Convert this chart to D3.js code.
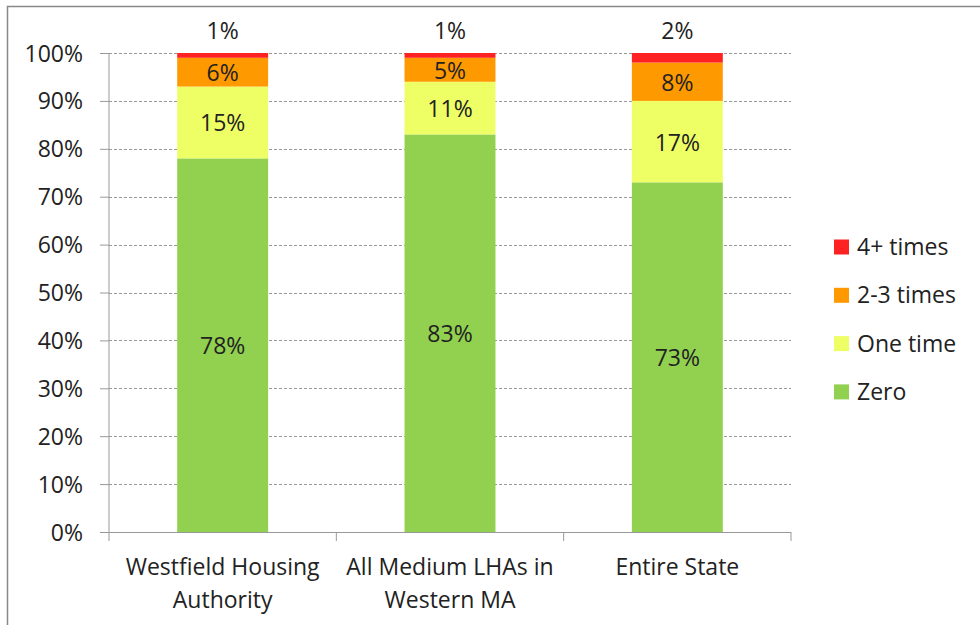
<!DOCTYPE html>
<html><head><meta charset="utf-8">
<script src="https://cdn.jsdelivr.net/npm/d3@7"></script>
<style>body{margin:0;background:#fff}svg{display:block}text{font-family:"Open Sans",Lato,sans-serif;fill:#222}</style>
</head><body>
<svg id="c" width="980" height="625"></svg>
<script>
const categories = [["Westfield Housing","Authority"],["All Medium LHAs in","Western MA"],["Entire State"]];
const seriesNames = ["Zero","One time","2-3 times","4+ times"];
const zero = [78,83,73];
const oneTime = [15,11,17];
const twoThree = [6,5,8];
const fourPlus = [1,1,2];
const colors = ["#92D050","#EEFF66","#FF9900","#FF2222"];
const yTicks = [0,10,20,30,40,50,60,70,80,90,100];

const FS = 23;
const series = [zero, oneTime, twoThree, fourPlus];
const svg = d3.select("#c");
// frame
svg.append("rect").attr("x",7.5).attr("y",6.5).attr("width",1000).attr("height",700)
  .attr("fill","none").attr("stroke","#888").attr("stroke-width",1.5);

const L=109, R=791, T=53, B=532;
const x = d3.scaleBand().domain(d3.range(categories.length)).range([L,R]).paddingInner(0.6).paddingOuter(0.3);
const xb = d3.scaleBand().domain(d3.range(categories.length)).range([L,R]);
const y = d3.scaleLinear().domain([0,100]).range([B,T]);

// gridlines
svg.append("g").selectAll("line").data(yTicks.filter(d=>d>0)).join("line")
  .attr("x1",L).attr("x2",R).attr("y1",d=>Math.round(y(d))+0.5).attr("y2",d=>Math.round(y(d))+0.5)
  .attr("stroke","#999").attr("stroke-dasharray","3,2");

// bars
const stackData = categories.map((c,i)=>{const o={i}; seriesNames.forEach((s,k)=>o[s]=series[k][i]); return o;});
const stack = d3.stack().keys(seriesNames)(stackData);
stack.forEach((layer,k)=>{
  svg.append("g").selectAll("rect").data(layer).join("rect")
    .attr("x",(d,i)=>x(i)).attr("width",x.bandwidth())
    .attr("y",d=>y(d[1])).attr("height",d=>y(d[0])-y(d[1]))
    .attr("fill",colors[k]);
});
// labels
stack.forEach((layer,k)=>{
  svg.append("g").selectAll("text").data(layer).join("text")
    .attr("x",(d,i)=>x(i)+x.bandwidth()/2)
    .attr("y",d=> k===3 ? y(100)-14 : (y(d[0])+y(d[1]))/2+9)
    .attr("text-anchor","middle").attr("font-size",FS)
    .text(d=>(d[1]-d[0])+"%");
});

// y axis
const ya = svg.append("g").attr("transform",`translate(${L},0)`)
  .call(d3.axisLeft(y).tickValues(yTicks).tickFormat(d=>d+"%").tickSize(9).tickPadding(17));
ya.select(".domain").attr("stroke","#999").attr("d",`M0,${T}V${B}`);
ya.selectAll(".tick line").attr("stroke","#999");
ya.selectAll(".tick text").attr("x",-26).attr("font-size",FS).attr("font-family","'Open Sans',Lato,sans-serif").attr("fill","#222").attr("dy","0.35em");

// x axis
const xa = svg.append("g").attr("transform",`translate(0,${B})`);
xa.append("line").attr("x1",L).attr("x2",R).attr("y1",0.5).attr("y2",0.5).attr("stroke","#999");
xa.selectAll("line.t").data(d3.range(categories.length+1)).join("line").attr("class","t")
  .attr("x1",i=>L+i*xb.bandwidth()).attr("x2",i=>L+i*xb.bandwidth()).attr("y1",0).attr("y2",9).attr("stroke","#999");
categories.forEach((lines,i)=>{
  const t = xa.append("text").attr("text-anchor","middle").attr("font-size",FS)
    .attr("x",x(i)+x.bandwidth()/2).attr("y",43);
  lines.forEach((ln,j)=>t.append("tspan").attr("x",x(i)+x.bandwidth()/2).attr("dy",j?33:0).text(ln));
});

// legend
const leg = svg.append("g");
const legItems = seriesNames.slice().reverse();
legItems.forEach((s,j)=>{
  const cy = 247 + j*48.3;
  leg.append("rect").attr("x",834).attr("y",cy-7.5).attr("width",15).attr("height",15)
    .attr("fill",colors[seriesNames.indexOf(s)]);
  leg.append("text").attr("x",857).attr("y",cy+8).attr("font-size",FS).text(s);
});
</script>
</body></html>
